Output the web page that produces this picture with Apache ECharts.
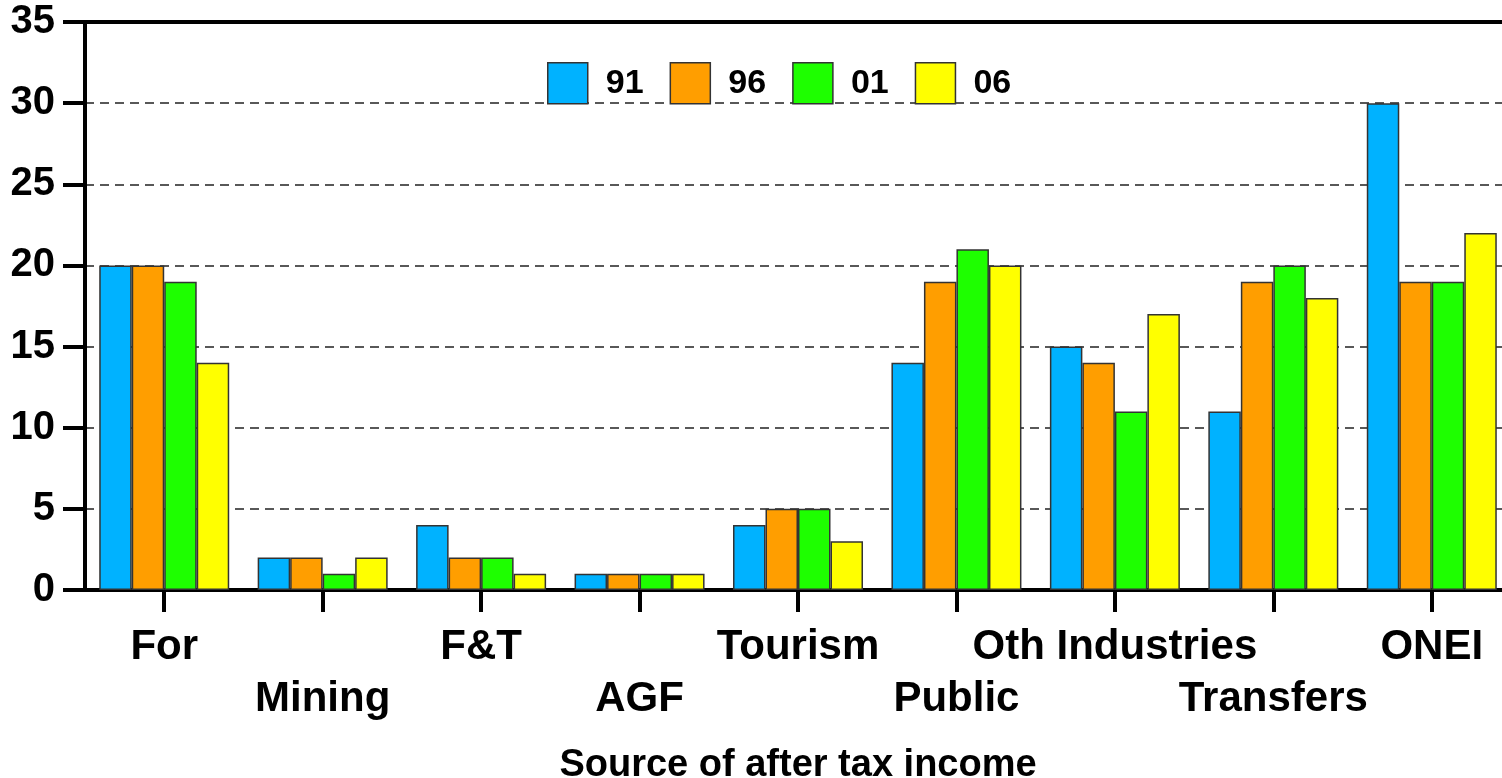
<!DOCTYPE html>
<html>
<head>
<meta charset="utf-8">
<script src="https://cdn.jsdelivr.net/npm/echarts@6/dist/echarts.min.js"></script>
<style>
  html, body { margin: 0; padding: 0; background: #fff; }
  #chart { width: 1502px; height: 778px; }
</style>
</head>
<body>
<div id="chart"></div>
<script>
const categories = ["For", "Mining", "F&T", "AGF", "Tourism", "Public", "Oth Industries", "Transfers", "ONEI"];
const years = ["91", "96", "01", "06"];
const s91 = [20, 2, 4, 1, 4, 14, 15, 11, 30];
const s96 = [20, 2, 2, 1, 5, 19, 14, 19, 19];
const s01 = [19, 1, 2, 1, 5, 21, 11, 20, 19];
const s06 = [14, 2, 1, 1, 3, 20, 17, 18, 22];
const yTicks = [0, 5, 10, 15, 20, 25, 30, 35];

const colors = ["#00B2FF", "#FF9E00", "#1EFF00", "#FFFF00"];
const font = "'Liberation Sans', Arial, sans-serif";

const chart = echarts.init(document.getElementById("chart"));
const seriesData = [s91, s96, s01, s06];

chart.setOption({
  animation: false,
  color: colors,
  textStyle: { fontFamily: font },
  grid: { left: 85, top: 22, width: 1426, bottom: 188, outerBoundsMode: "none", containLabel: false },
  legend: {
    data: years,
    top: 62,
    left: 547,
    padding: 0,
    icon: "rect",
    itemWidth: 40,
    itemHeight: 41,
    itemGap: 26,
    selectedMode: false,
    textStyle: { fontSize: 34, fontWeight: "bold", color: "#000", padding: [0, 0, 0, 13] },
    itemStyle: { borderColor: "#333", borderWidth: 1.5 },
  },
  xAxis: [
    {
      type: "category",
      data: categories,
      name: "Source of after tax income",
      nameLocation: "middle",
      nameGap: 157,
      nameTextStyle: { fontSize: 38, fontWeight: "bold", color: "#000", fontFamily: font },
      axisLine: { lineStyle: { color: "#000", width: 4 } },
      axisTick: { show: true, alignWithLabel: true, length: 22, lineStyle: { color: "#000", width: 4 } },
      axisLabel: {
        interval: 0,
        margin: 31,
        fontSize: 42,
        fontWeight: "bold",
        color: "#000",
        lineHeight: 52,
        // 标签上下交错
        formatter: (v, i) => (i % 2 === 1 ? "\n" + v : v),
      },
    },
    {
      // 顶部的实线
      type: "category",
      data: categories,
      position: "top",
      axisLine: { lineStyle: { color: "#000", width: 4 } },
      axisTick: { show: false },
      axisLabel: { show: false },
    },
  ],
  yAxis: {
    type: "value",
    min: yTicks[0],
    max: yTicks[yTicks.length - 1],
    interval: 5,
    axisLine: { show: true, lineStyle: { color: "#000", width: 4 } },
    axisTick: { show: true, length: 22, lineStyle: { color: "#000", width: 4 } },
    axisLabel: { margin: 30, fontSize: 40, fontWeight: "bold", color: "#000" },
    splitLine: { lineStyle: { color: "#222", width: 1.5, type: [9, 6] } },
  },
  series: years.map((y, k) => ({
    name: y,
    type: "bar",
    data: seriesData[k],
    barWidth: 32.5,
    barGap: "0%",
    itemStyle: { color: colors[k], borderColor: "#333", borderWidth: 1.5 },
  })),
});
</script>
</body>
</html>
